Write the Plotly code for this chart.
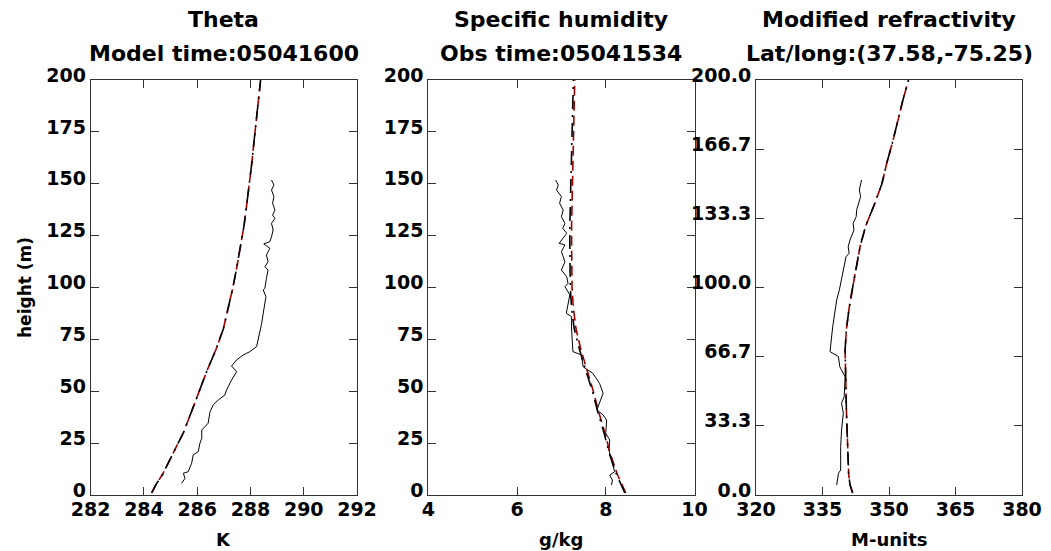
import plotly.graph_objects as go

# ---------------- data ----------------
# Model profiles (heights in m)
model_h = [1, 5, 10, 20, 30, 40, 50, 60, 70, 80, 90, 100, 110, 120, 130, 140, 150, 160, 170, 180, 190, 200]
theta_model = [284.29, 284.45, 284.70, 285.10, 285.48, 285.78, 286.06, 286.37, 286.70, 286.98, 287.16, 287.34,
               287.49, 287.63, 287.76, 287.86, 287.96, 288.05, 288.13, 288.22, 288.30, 288.38]
q_model = [8.45, 8.36, 8.26, 8.10, 7.98, 7.84, 7.72, 7.58, 7.44, 7.33, 7.27, 7.24,
           7.23, 7.23, 7.23, 7.24, 7.25, 7.26, 7.27, 7.28, 7.29, 7.30]
q_model_interp = [8.43, 8.34, 8.24, 8.08, 7.96, 7.82, 7.70, 7.55, 7.41, 7.29, 7.23, 7.20,
                  7.19, 7.19, 7.19, 7.20, 7.21, 7.22, 7.23, 7.24, 7.25, 7.27]
m_model = [341.8, 341.2, 340.9, 340.7, 340.6, 340.4, 340.3, 340.2, 340.1, 340.4, 341.0, 341.8,
           342.6, 343.5, 344.8, 346.7, 348.4, 349.5, 350.8, 351.9, 353.1, 354.4]

# Observed profiles
theta_obs_h = [5.6, 8.0, 10.5, 11.2, 15.3, 19.3, 20.9, 24.9, 27.3, 31.3, 34.6, 40.1, 43.4, 45.8, 48.2, 50.6,
               55.4, 59.4, 62.2, 65.1, 67.5, 69.1, 71.5, 74.7, 77.9, 82.7, 87.6, 95.6, 98.8, 99.6, 104.4,
               108.4, 110.0, 112.4, 115.7, 118.9, 121.0, 122.1, 124.5, 127.7, 130.9, 133.3, 134.9, 137.3,
               140.6, 143.8, 147.0, 149.4, 151.8]
theta_obs = [285.41, 285.54, 285.48, 285.66, 285.79, 285.85, 286.04, 286.10, 286.17, 286.17, 286.41, 286.48,
             286.60, 286.79, 287.04, 287.10, 287.29, 287.48, 287.29, 287.48, 287.73, 287.98, 288.23, 288.29,
             288.35, 288.42, 288.48, 288.58, 288.48, 288.54, 288.60, 288.66, 288.54, 288.66, 288.60, 288.73,
             288.50, 288.73, 288.79, 288.85, 288.79, 288.92, 288.83, 288.92, 288.83, 288.88, 288.79, 288.88,
             288.79]

q_obs_h = [4.8, 7.2, 9.6, 11.2, 16.9, 21.7, 26.5, 29.7, 36.1, 38.6, 41.0, 44.2, 49.0, 53.8, 58.6, 61.8,
           67.5, 69.1, 79.5, 85.9, 87.6, 96.4, 100.4, 102.0, 105.2, 108.4, 112.4, 117.3, 120.5, 121.3,
           126.1, 128.5, 130.9, 134.1, 137.3, 140.6, 143.8, 147.0, 149.4, 151.8]
q_obs = [8.13, 8.15, 8.09, 8.20, 8.13, 8.07, 8.09, 8.00, 8.02, 7.94, 7.80, 7.86, 7.94, 7.86, 7.71, 7.49,
         7.45, 7.26, 7.23, 7.23, 7.11, 7.19, 7.08, 7.15, 7.12, 7.00, 7.08, 7.00, 7.08, 6.95,
         7.12, 7.03, 7.08, 7.00, 7.04, 6.96, 7.00, 6.89, 6.93, 6.87]

m_obs_h = [4.8, 10.5, 12.0, 23.3, 31.3, 39.4, 44.2, 47.4, 57.0, 61.8, 66.7, 69.1, 81.1, 87.6, 94.0, 98.8,
           103.6, 108.4, 114.8, 116.5, 119.7, 122.9, 127.7, 130.9, 134.1, 137.3, 143.8, 147.0, 151.8]
m_obs = [338.2, 338.6, 339.1, 339.1, 339.3, 339.7, 339.3, 339.9, 340.1, 338.9, 338.6, 336.7, 337.3, 337.8,
         338.2, 338.8, 339.3, 339.7, 340.3, 341.0, 340.8, 341.2, 342.1, 341.9, 342.6, 342.7, 343.6, 343.3,
         343.8]

titles = [("Theta", "Model time:05041600"),
          ("Specific humidity", "Obs time:05041534"),
          ("Modified refractivity", "Lat/long:(37.58,-75.25)")]
x_titles = ["K", "g/kg", "M-units"]
x_ticks = [[282, 284, 286, 288, 290, 292], [4, 6, 8, 10], [320, 335, 350, 365, 380]]
y_ticks = [0, 25, 50, 75, 100, 125, 150, 175, 200]
y_ticks_m = [0, 33.333, 66.667, 100, 133.333, 166.667, 200]
y_ticktext_m = ["0.0", "33.3", "66.7", "100.0", "133.3", "166.7", "200.0"]

# ---------------- figure ----------------
# page body has an 8px margin; figure spans from there to the window edge
OFF = 8
W, H = 1051 - OFF, 551 - OFF
FONT = "DejaVu Sans"
RED = "#a00000"


def px(x):
    return (x - OFF) / W


def py(y):
    return 1 - (y - OFF) / H


doms = [(90.7, 357.0), (428.3, 694.5), (756.0, 1022.0)]
ytop, ybot = 80.0, 495.0
ydom = [py(ybot), py(ytop)]

fig = go.Figure()

series = [
    (theta_model, theta_model, theta_obs_h, theta_obs),
    (q_model, q_model_interp, q_obs_h, q_obs),
    (m_model, m_model, m_obs_h, m_obs),
]

for i, (mod, modi, oh, ov) in enumerate(series):
    xa = "x" if i == 0 else f"x{i+1}"
    ya = "y" if i == 0 else f"y{i+1}"
    fig.add_trace(go.Scatter(x=ov, y=oh, mode="lines", xaxis=xa, yaxis=ya,
                             line=dict(color="black", width=1), showlegend=False))
    fig.add_trace(go.Scatter(x=mod, y=model_h, mode="lines", xaxis=xa, yaxis=ya,
                             line=dict(color=RED, width=1.6, dash="10px,5px"), showlegend=False))
    fig.add_trace(go.Scatter(x=modi, y=model_h, mode="lines", xaxis=xa, yaxis=ya,
                             line=dict(color="black", width=1.6, dash="14px,6px,2px,6px"), showlegend=False))

axis_common = dict(showgrid=False, zeroline=False, showline=True, linecolor="#333333", linewidth=1,
                   mirror="ticks", ticks="inside", ticklen=8, tickcolor="#333333", tickwidth=1,
                   automargin=False,
                   tickfont=dict(family=FONT, size=19, color="black"))

layout = dict(width=W, height=H, margin=dict(l=0, r=0, t=0, b=0, pad=0, autoexpand=False),
              paper_bgcolor="white", plot_bgcolor="white", showlegend=False)

ranges = [(282, 292), (4, 10), (320, 380)]
for i in range(3):
    xk = "xaxis" if i == 0 else f"xaxis{i+1}"
    yk = "yaxis" if i == 0 else f"yaxis{i+1}"
    ya = "y" if i == 0 else f"y{i+1}"
    xa = "x" if i == 0 else f"x{i+1}"
    d = doms[i]
    layout[xk] = dict(axis_common, domain=[px(d[0]), px(d[1])], range=list(ranges[i]), anchor=ya,
                      tickmode="array", tickvals=x_ticks[i], ticklabelstandoff=-3,
                      ticktext=[f"<b>{v}</b>" for v in x_ticks[i]])
    if i < 2:
        yt = dict(tickmode="array", tickvals=y_ticks, ticktext=[f"<b>{v}</b>" for v in y_ticks])
    else:
        yt = dict(tickmode="array", tickvals=y_ticks_m, ticktext=[f"<b>{v}</b>" for v in y_ticktext_m])
    layout[yk] = dict(axis_common, domain=ydom, range=[0, 200], anchor=xa, ticklabelshift=-5, **yt)

fig.update_layout(**layout)

ann = []
for i in range(3):
    cx = px((doms[i][0] + doms[i][1]) / 2)
    ann.append(dict(text=f"<b>{titles[i][0]}</b>", x=cx, y=py(20), xref="paper", yref="paper",
                    showarrow=False, xanchor="center", yanchor="middle",
                    font=dict(family=FONT, size=22, color="black")))
    ann.append(dict(text=f"<b>{titles[i][1]}</b>", x=cx, y=py(53), xref="paper", yref="paper",
                    showarrow=False, xanchor="center", yanchor="middle",
                    font=dict(family=FONT, size=22, color="black")))
    ann.append(dict(text=f"<b>{x_titles[i]}</b>", x=cx, y=py(539), xref="paper", yref="paper",
                    showarrow=False, xanchor="center", yanchor="middle",
                    font=dict(family=FONT, size=18, color="black")))
ann.append(dict(text="<b>height (m)</b>", x=px(25), y=py(288), xref="paper", yref="paper",
                showarrow=False, xanchor="center", yanchor="middle", textangle=-90,
                font=dict(family=FONT, size=17, color="black")))
fig.update_layout(annotations=ann)

fig.write_html("out.html")
